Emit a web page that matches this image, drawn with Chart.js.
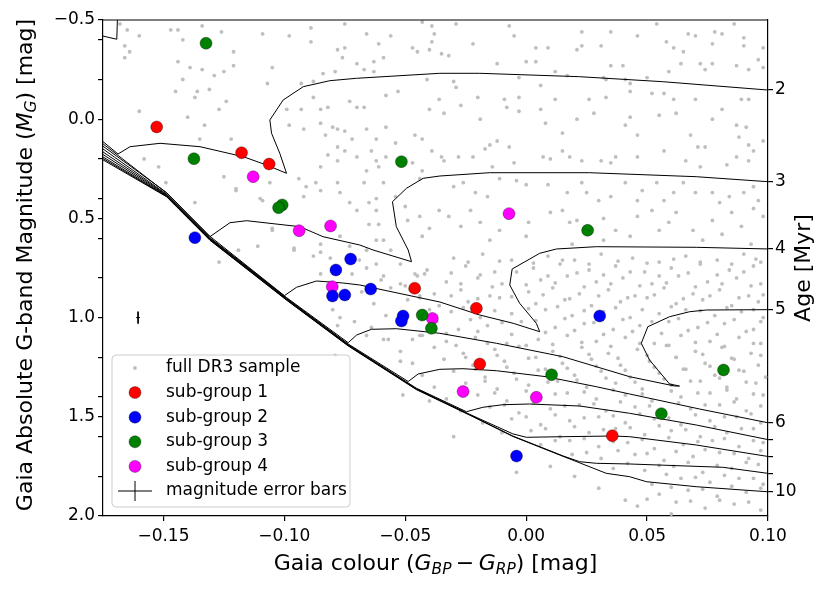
<!DOCTYPE html>
<html>
<head>
<meta charset="utf-8">
<title>Gaia CMD with isochrones</title>
<script src="https://cdn.jsdelivr.net/npm/chart.js"></script>
<style>
  html, body { margin: 0; padding: 0; background: #fff; }
  canvas { display: block; }
</style>
</head>
<body>
<canvas id="cmd" width="830" height="592"></canvas>
<script>
// ---------- axis ticks ----------
const xTicks = [-0.15, -0.10, -0.05, 0.00, 0.05, 0.10];
const yTicks = [-0.5, -0.4, -0.2, 0.0, 0.2, 0.4, 0.5, 0.6, 0.8, 1.0, 1.2, 1.4, 1.5, 1.6, 1.8, 2.0];
const yLabelled = [-0.5, 0.0, 0.5, 1.0, 1.5, 2.0];
// right axis: isochrone ages at the magnitude where each curve leaves the plot
const ageTickMags = [-0.147, 0.315, 0.654, 0.960, 1.530, 1.615, 1.700, 1.785, 1.878];
const ageTickLabels = ['2', '3', '4', '5', '6', '', '', '', '10'];

// ---------- sub-groups [colour, M_G] ----------
const subGroup1 = [[-0.1528, 0.039], [-0.1177, 0.169], [-0.1063, 0.226], [-0.0461, 0.852],
                   [-0.0206, 0.953], [-0.0192, 1.234], [0.0356, 1.595]];
const subGroup2 = [[-0.1370, 0.597], [-0.0726, 0.705], [-0.0787, 0.760], [-0.0801, 0.891],
                   [-0.0750, 0.886], [-0.0643, 0.856], [-0.0509, 0.992], [-0.0516, 1.017],
                   [0.0304, 0.992], [-0.0040, 1.698]];
const subGroup3 = [[-0.1324, -0.383], [-0.1374, 0.199], [-0.0516, 0.214], [-0.1009, 0.432],
                   [-0.1024, 0.446], [0.0254, 0.560], [-0.0430, 0.987], [-0.0392, 1.054],
                   [0.0105, 1.288], [0.0816, 1.264], [0.0559, 1.484]];
const subGroup4 = [[-0.1129, 0.290], [-0.0939, 0.562], [-0.0809, 0.538], [-0.0071, 0.476],
                   [-0.0802, 0.844], [-0.0388, 1.004], [-0.0261, 1.373], [0.0042, 1.402]];

// typical magnitude error bar
const errBarPos = [-0.1605, 1.0];
const errBarSize = [0.0008, 0.03];

// ---------- isochrones (colour, M_G) ----------
const iso1 = [[-0.180, -0.433], [-0.1693, -0.403], [-0.1690, -0.52]];
const iso2 = [[-0.175, 0.113], [-0.1688, 0.1754], [-0.1638, 0.1386], [-0.1514, 0.1215], [-0.1349, 0.1386],
              [-0.1170, 0.1890], [-0.1074, 0.2308], [-0.0991, 0.2727], [-0.1019, 0.1719], [-0.1053, 0.0711],
              [-0.1060, 0.004], [-0.1005, -0.0968], [-0.0922, -0.1638], [-0.0812, -0.1941], [-0.0702, -0.2061],
              [-0.0357, -0.2313], [-0.0192, -0.2313], [0.0221, -0.2142], [0.0565, -0.1890], [0.1, -0.147]];
const iso3 = [[-0.175, 0.124], [-0.1487, 0.372], [-0.1308, 0.5922], [-0.1225, 0.5217], [-0.1156, 0.5116],
              [-0.0936, 0.5418], [-0.0840, 0.5922], [-0.0688, 0.6341], [-0.0633, 0.6593], [-0.0474, 0.7182],
              [-0.0488, 0.6593], [-0.0537, 0.5418], [-0.0553, 0.4158], [-0.0495, 0.3483], [-0.0426, 0.2979],
              [-0.0357, 0.2863], [-0.0151, 0.2697], [0.0262, 0.2697], [0.0703, 0.2898], [0.1, 0.315]];
const iso4 = [[-0.175, 0.136], [-0.1487, 0.370], [-0.1308, 0.590], [-0.1000, 0.8896], [-0.0950, 0.8473],
              [-0.0867, 0.8155], [-0.0758, 0.8256], [-0.0688, 0.8357], [-0.0357, 0.9214], [-0.0192, 0.9869],
              [-0.0054, 1.0287], [0.0056, 1.0711], [0.0042, 1.0287], [-0.0027, 0.9279], [-0.0068, 0.8357],
              [-0.0058, 0.755], [0.0056, 0.6759], [0.0125, 0.6542], [0.0290, 0.6426], [0.0703, 0.6457], [0.1, 0.654]];
const iso5 = [[-0.175, 0.150], [-0.1487, 0.378], [-0.1308, 0.597], [-0.0991, 0.899], [-0.0736, 1.1265],
              [-0.0701, 1.0877], [-0.0640, 1.0590], [-0.0536, 1.0560], [-0.0357, 1.0792], [-0.0123, 1.1295],
              [0.0152, 1.1971], [0.0428, 1.2979], [0.0614, 1.3448], [0.0634, 1.3448], [0.0593, 1.3347],
              [0.0510, 1.2137], [0.0476, 1.1295], [0.0503, 1.0459], [0.0593, 0.9955], [0.0676, 0.9703],
              [0.0745, 0.9617], [0.1, 0.960]];
const iso6 = [[-0.175, 0.165], [-0.1487, 0.381], [-0.1308, 0.600], [-0.0991, 0.902], [-0.0736, 1.133],
              [-0.0488, 1.322], [-0.0447, 1.2843], [-0.0357, 1.2606], [-0.0261, 1.2576], [-0.0123, 1.2677],
              [0.0083, 1.2979], [0.0290, 1.3483], [0.0428, 1.3851], [0.0717, 1.4607], [0.1, 1.530]];
const iso7 = [[-0.175, 0.178], [-0.1487, 0.384], [-0.1308, 0.603], [-0.0991, 0.905], [-0.0736, 1.136],
              [-0.0454, 1.356], [-0.0247, 1.4743], [-0.0179, 1.4521], [-0.0096, 1.4390], [0.0014, 1.4355],
              [0.0221, 1.4456], [0.0428, 1.4824], [0.0703, 1.5413], [0.1, 1.615]];
const iso8 = [[-0.175, 0.190], [-0.1487, 0.387], [-0.1308, 0.606], [-0.0991, 0.908], [-0.0736, 1.139],
              [-0.0454, 1.359], [-0.0233, 1.488], [-0.0055, 1.586], [0.0001, 1.6033], [0.0152, 1.6003],
              [0.0359, 1.5968], [0.0428, 1.6003], [0.0703, 1.6421], [0.1, 1.700]];
const iso9 = [[-0.175, 0.198], [-0.1487, 0.389], [-0.1308, 0.608], [-0.0991, 0.910], [-0.0736, 1.141],
              [-0.0454, 1.361], [-0.0233, 1.490], [-0.0055, 1.597], [0.0152, 1.697], [0.0221, 1.7263],
              [0.0290, 1.7344], [0.0428, 1.7379], [0.0813, 1.7545], [0.1, 1.785]];
const iso10 = [[-0.175, 0.205], [-0.1487, 0.391], [-0.1308, 0.610], [-0.0991, 0.912], [-0.0736, 1.143],
               [-0.0454, 1.363], [-0.0233, 1.492], [-0.0055, 1.599], [0.0152, 1.699], [0.0331, 1.7848],
               [0.0428, 1.8019], [0.0497, 1.8271], [0.0703, 1.8523], [0.1, 1.878]];

// ---------- full DR3 sample ----------
const dr3Upper = [
  [-0.168,-0.48],[-0.165,-0.45],[-0.160,-0.42],[-0.166,-0.37],[-0.164,-0.34],[-0.166,-0.31],[-0.147,-0.45],[-0.144,-0.45],
  [-0.134,-0.47],[-0.126,-0.44],[-0.142,-0.40],[-0.121,-0.34],[-0.144,-0.29],[-0.139,-0.26],[-0.134,-0.25],[-0.129,-0.22],
  [-0.125,-0.24],[-0.121,-0.27],[-0.142,-0.20],[-0.145,-0.14],[-0.136,-0.14],[-0.131,-0.15],[-0.137,-0.11],[-0.124,-0.09],
  [-0.160,-0.04],[-0.140,-0.01],[-0.133,0.03],[-0.127,-0.05],[-0.135,0.10],[-0.122,0.10],[-0.158,0.20],[-0.152,0.24],
  [-0.149,0.32],[-0.137,0.42],[-0.125,0.29],[-0.120,0.35],[-0.110,0.40],[-0.106,0.32],[-0.105,-0.26],[-0.109,-0.43],
  [-0.107,-0.18],[-0.098,-0.42],[-0.089,-0.39],[-0.089,-0.46],[-0.075,-0.48],[-0.078,-0.35],[-0.075,-0.36],[-0.076,-0.31],
  [-0.070,-0.28],[-0.066,-0.43],[-0.063,-0.29],[-0.061,-0.38],[-0.059,-0.31],[-0.056,-0.42],[-0.063,-0.24],[-0.079,-0.24],
  [-0.084,-0.23],[-0.088,-0.19],[-0.067,-0.25],[-0.043,-0.49],[-0.039,-0.47],[-0.039,-0.39],[-0.040,-0.35],[-0.047,-0.36],
  [-0.045,-0.34],[-0.041,-0.20],[-0.053,-0.14],[-0.058,-0.12],[-0.067,-0.06],[-0.070,-0.06],[-0.073,-0.09],[-0.082,-0.06],
  [-0.085,-0.05],[-0.093,-0.05],[-0.088,-0.11],[-0.093,-0.18],[-0.099,-0.05],[-0.098,0.03],[-0.092,0.05],[-0.085,0.02],
  [-0.083,0.08],[-0.080,0.04],[-0.078,0.05],[-0.075,0.06],[-0.072,0.10],[-0.066,0.05],[-0.062,0.10],[-0.058,0.04],
  [-0.054,0.12],[-0.046,0.08],[-0.043,0.10],[-0.040,-0.05],[-0.039,0.16],[-0.047,0.22],[-0.043,0.26],[-0.044,0.30],
  [-0.078,0.14],[-0.082,0.18],[-0.085,0.24],[-0.078,0.21],[-0.075,0.16],[-0.070,0.19],[-0.064,0.16],[-0.062,0.21],
  [-0.058,0.19],[-0.066,0.26],[-0.061,0.24],[-0.094,0.30],[-0.091,0.34],[-0.087,0.32],[-0.092,0.39],[-0.085,0.36],
  [-0.078,0.32],[-0.077,0.37],[-0.073,0.42],[-0.067,0.32],[-0.065,0.42],[-0.070,0.46],[-0.062,0.40],[-0.062,0.46],
  [-0.059,0.32],[-0.054,0.39],[-0.050,0.44],[-0.049,0.51],[-0.044,0.49],[-0.043,0.59],[-0.040,0.55],[-0.061,0.53],
  [-0.065,0.53],[-0.059,0.61],[-0.062,0.61],[-0.056,0.66],[-0.066,0.66],[-0.069,0.71],[-0.085,0.63],[-0.096,0.66],
  [-0.105,0.55],[-0.109,0.41],[-0.120,0.36],
  [-0.038,-0.43],[-0.029,-0.48],[-0.022,-0.38],[-0.035,-0.33],[-0.032,-0.32],[-0.007,-0.47],[-0.005,-0.42],[-0.012,-0.28],
  [0.000,-0.29],[0.004,-0.29],[0.004,-0.36],[0.009,-0.36],[0.012,-0.24],[0.021,-0.35],[0.023,-0.37],[0.023,-0.44],
  [0.031,-0.37],[0.035,-0.44],[0.040,-0.27],[0.035,-0.27],[0.046,-0.42],[0.054,-0.48],[0.058,-0.39],[0.061,-0.36],
  [0.065,-0.34],[0.064,-0.28],[0.067,-0.43],[0.070,-0.42],[0.078,-0.44],[0.081,-0.43],[0.086,-0.48],[0.077,-0.38],
  [0.090,-0.41],[0.098,-0.36],[0.096,-0.30],[0.090,-0.37],[0.072,-0.28],[0.077,-0.28],[0.074,-0.25],[0.087,-0.27],
  [0.092,-0.25],[0.098,-0.26],[0.059,-0.24],[0.050,-0.21],[0.043,-0.18],[0.041,-0.20],[0.033,-0.20],[0.032,-0.21],
  [0.017,-0.22],[0.006,-0.17],[-0.003,-0.21],[-0.030,-0.19],[-0.029,-0.16],[-0.036,-0.10],[-0.034,-0.03],[-0.027,-0.07],
  [-0.020,-0.11],[-0.019,0.00],[-0.009,-0.10],[-0.008,-0.06],[-0.003,-0.11],[-0.003,-0.04],[0.006,-0.05],[0.012,-0.10],
  [0.008,0.02],[0.015,0.07],[0.021,0.00],[0.026,-0.10],[0.028,-0.03],[0.033,-0.11],[0.041,0.03],[0.043,-0.01],
  [0.046,0.08],[0.043,-0.14],[0.055,-0.02],[0.062,-0.03],[0.052,-0.13],[0.057,-0.13],[0.061,-0.10],[0.070,-0.10],
  [0.077,0.00],[0.068,0.08],[0.071,0.14],[0.074,0.14],[0.081,-0.05],[0.087,0.03],[0.091,0.04],[0.088,0.09],
  [0.092,0.13],[0.094,0.16],[0.098,0.11],[0.089,-0.10],[0.092,-0.10],[-0.015,0.13],[-0.017,0.15],[-0.012,0.11],
  [-0.007,0.14],[-0.022,0.19],[-0.028,0.19],[-0.035,0.19],[-0.034,0.21],[-0.014,0.24],[-0.005,0.22],[0.007,0.19],
  [0.010,0.20],[0.015,0.16],[0.018,0.19],[0.023,0.21],[0.031,0.21],[0.035,0.22],[0.037,0.19],[0.046,0.19],
  [0.057,0.16],[0.066,0.21],[0.072,0.24],[0.083,0.23],[0.087,0.19],[0.092,0.21],
  [-0.030,0.34],[-0.026,0.32],[-0.021,0.37],[-0.016,0.39],[-0.011,0.30],[-0.004,0.31],[0.000,0.33],[0.009,0.33],
  [0.017,0.37],[0.023,0.32],[0.025,0.37],[0.030,0.41],[0.035,0.39],[0.041,0.32],[0.046,0.41],[0.048,0.36],
  [0.054,0.32],[0.057,0.41],[0.061,0.37],[0.065,0.32],[0.070,0.37],[0.077,0.37],[0.080,0.42],[0.084,0.39],
  [0.090,0.37],[0.094,0.34],[0.096,0.41],[-0.036,0.46],[-0.032,0.49],[-0.027,0.54],[-0.023,0.46],[-0.019,0.52],
  [-0.015,0.61],[-0.011,0.56],[0.000,0.59],[0.001,0.52],[0.010,0.47],[0.015,0.46],[0.018,0.52],[0.021,0.51],
  [0.019,0.63],[0.032,0.50],[0.032,0.61],[0.037,0.56],[0.043,0.59],[0.046,0.49],[0.052,0.46],[0.055,0.56],
  [0.059,0.52],[0.062,0.47],[0.069,0.56],[0.073,0.61],[0.077,0.51],[0.081,0.58],[0.085,0.47],[0.089,0.54],
  [0.093,0.63],[0.098,0.49],[0.094,0.45]
];
const dr3Lower = [
  [-0.127,0.72],[-0.111,0.64],[-0.119,0.66],[-0.105,0.56],[-0.096,0.65],[-0.088,0.69],[-0.085,0.67],[-0.081,0.70],
  [-0.085,0.78],[-0.077,0.59],[-0.073,0.64],[-0.072,0.78],[-0.080,0.96],[-0.077,1.00],[-0.071,1.02],[-0.062,0.73],
  [-0.059,0.79],[-0.052,0.83],[-0.048,0.86],[-0.044,0.89],[-0.042,0.78],[-0.078,1.04],[-0.066,1.09],[-0.059,1.11],
  [-0.047,1.11],[-0.043,1.09],[-0.052,1.22],[-0.051,1.39],[-0.040,1.42],[-0.079,1.19],
  [-0.030,0.70],[-0.018,0.68],[-0.006,0.71],[0.009,0.69],[0.020,0.71],[0.031,0.68],[0.044,0.70],[0.055,0.72],
  [0.066,0.69],[0.079,0.71],[0.090,0.68],[0.097,0.72],
  [-0.066,0.75],[-0.052,0.73],[-0.041,0.76],[-0.025,0.74],[-0.013,0.77],[0.003,0.75],[0.014,0.73],[0.026,0.76],
  [0.037,0.74],[0.049,0.77],[0.060,0.75],[0.072,0.73],[0.084,0.76],[0.094,0.74],
  [-0.060,0.81],[-0.045,0.79],[-0.033,0.82],[-0.020,0.80],[-0.010,0.83],[0.006,0.81],[0.017,0.79],[0.029,0.82],
  [0.040,0.80],[0.052,0.83],[0.063,0.79],[0.075,0.82],[0.087,0.80],[0.097,0.83],
  [-0.068,0.87],[-0.056,0.85],[-0.038,0.88],[-0.027,0.86],[-0.015,0.89],[0.001,0.87],[0.011,0.85],[0.022,0.88],
  [0.034,0.86],[0.045,0.89],[0.057,0.85],[0.069,0.88],[0.080,0.86],[0.092,0.89],
  [-0.063,0.93],[-0.049,0.91],[-0.036,0.94],[-0.024,0.92],[-0.011,0.90],[0.004,0.93],[0.016,0.91],[0.027,0.94],
  [0.039,0.92],[0.050,0.90],[0.062,0.93],[0.073,0.91],[0.085,0.94],[0.096,0.92],
  [-0.058,0.99],[-0.031,0.97],[-0.019,1.00],[-0.006,0.98],[0.008,0.96],[0.019,0.99],[0.032,0.97],[0.043,1.00],
  [0.055,0.98],[0.066,0.96],[0.078,0.99],[0.089,0.97],[0.098,1.00],
  [-0.064,1.05],[-0.050,1.03],[-0.028,1.06],[-0.016,1.04],[-0.002,1.02],[0.012,1.05],[0.024,1.03],[0.036,1.06],
  [0.047,1.04],[0.059,1.02],[0.071,1.05],[0.082,1.03],[0.094,1.06],
  [-0.057,1.11],[-0.044,1.09],[-0.033,1.12],[-0.021,1.10],[-0.008,1.13],[0.005,1.11],[0.017,1.09],[0.029,1.12],
  [0.041,1.10],[0.053,1.13],[0.064,1.09],[0.076,1.12],[0.088,1.10],[0.097,1.13],
  [-0.052,1.17],[-0.038,1.15],[-0.026,1.18],[-0.013,1.16],[0.000,1.14],[0.011,1.17],[0.023,1.15],[0.034,1.18],
  [0.046,1.16],[0.058,1.14],[0.070,1.17],[0.081,1.15],[0.093,1.18],
  [-0.047,1.23],[-0.034,1.21],[-0.022,1.24],[-0.009,1.22],[0.004,1.20],[0.015,1.23],[0.027,1.21],[0.039,1.24],
  [0.051,1.22],[0.062,1.20],[0.074,1.23],[0.086,1.21],[0.096,1.24],
  [-0.043,1.29],[-0.030,1.27],[-0.017,1.30],[-0.005,1.28],[0.008,1.26],[0.020,1.29],[0.031,1.27],[0.043,1.30],
  [0.055,1.28],[0.066,1.26],[0.078,1.29],[0.090,1.27],[0.099,1.30],
  [-0.038,1.35],[-0.025,1.33],[-0.012,1.36],[0.001,1.34],[0.013,1.32],[0.025,1.35],[0.037,1.33],[0.048,1.36],
  [0.060,1.34],[0.072,1.32],[0.083,1.35],[0.095,1.33],
  [-0.033,1.41],[-0.020,1.39],[-0.008,1.42],[0.005,1.40],[0.017,1.38],[0.029,1.41],[0.041,1.39],[0.052,1.42],
  [0.064,1.40],[0.076,1.38],[0.087,1.41],[0.098,1.39],
  [-0.027,1.47],[-0.015,1.45],[-0.003,1.48],[0.010,1.46],[0.022,1.44],[0.033,1.47],[0.045,1.45],[0.057,1.48],
  [0.068,1.46],[0.080,1.44],[0.091,1.47],
  [-0.018,1.53],[-0.006,1.51],[0.006,1.54],[0.018,1.52],[0.030,1.50],[0.041,1.53],[0.053,1.51],[0.064,1.54],
  [0.076,1.52],[0.087,1.50],[0.097,1.53],
  [-0.010,1.58],[0.002,1.57],[0.014,1.60],[0.026,1.58],[0.037,1.56],[0.049,1.59],[0.060,1.57],[0.072,1.60],
  [0.083,1.58],[0.094,1.56],
  [0.006,1.64],[0.018,1.62],[0.030,1.65],[0.042,1.63],[0.053,1.66],[0.065,1.64],[0.077,1.62],[0.088,1.65],[0.098,1.63],
  [0.019,1.69],[0.031,1.71],[0.045,1.69],[0.057,1.72],[0.069,1.70],[0.080,1.68],[0.092,1.71],
  [0.036,1.76],[0.049,1.77],[0.061,1.75],[0.073,1.78],[0.085,1.76],[0.096,1.74],
  [0.052,1.84],[0.064,1.81],[0.076,1.83],[0.088,1.81],[0.098,1.84],
  [0.055,1.89],[0.067,1.87],[0.079,1.90],[0.091,1.88],
  [0.046,1.95],[0.062,1.93],[0.074,1.96],[0.086,1.94],[0.097,1.97],
  [0.020,1.80],[0.030,1.86],[0.010,1.75],[-0.004,1.78],[0.041,1.92],[-0.030,1.60],[0.060,1.99]
];
// the dense red end of the sample, between the rows above
const dr3Dense = [
  [-0.024,0.72],[-0.011,0.715],[0.003,0.725],[0.015,0.71],[0.026,0.73],[0.038,0.715],[0.050,0.725],[0.061,0.705],
  [0.072,0.72],[0.085,0.73],[0.095,0.705],
  [-0.046,0.78],[-0.031,0.775],[-0.019,0.785],[-0.004,0.77],[0.009,0.79],[0.021,0.775],[0.032,0.785],[0.043,0.77],
  [0.055,0.79],[0.067,0.775],[0.079,0.785],[0.090,0.77],
  [-0.050,0.84],[-0.027,0.83],[-0.014,0.845],[0.000,0.835],[0.012,0.825],[0.024,0.845],[0.035,0.83],[0.047,0.84],
  [0.058,0.825],[0.070,0.845],[0.081,0.83],[0.093,0.84],
  [-0.044,0.90],[-0.031,0.89],[-0.020,0.905],[-0.006,0.895],[0.007,0.885],[0.018,0.905],[0.030,0.89],[0.042,0.90],
  [0.053,0.885],[0.065,0.905],[0.076,0.89],[0.088,0.90],[0.098,0.885],
  [-0.040,0.96],[-0.026,0.95],[-0.013,0.965],[0.001,0.955],[0.013,0.945],[0.024,0.965],[0.037,0.95],[0.048,0.96],
  [0.060,0.945],[0.072,0.965],[0.083,0.95],[0.094,0.96],
  [-0.037,1.02],[-0.023,1.01],[-0.010,1.025],[0.004,1.015],[0.016,1.005],[0.028,1.025],[0.040,1.01],[0.052,1.02],
  [0.063,1.005],[0.075,1.025],[0.086,1.01],[0.097,1.02],
  [-0.033,1.08],[-0.020,1.07],[-0.006,1.085],[0.008,1.075],[0.020,1.065],[0.032,1.085],[0.044,1.07],[0.056,1.08],
  [0.067,1.065],[0.079,1.085],[0.091,1.07],
  [-0.029,1.14],[-0.016,1.13],[-0.003,1.145],[0.011,1.135],[0.023,1.125],[0.035,1.145],[0.047,1.13],[0.059,1.14],
  [0.070,1.125],[0.082,1.145],[0.094,1.13],
  [-0.025,1.20],[-0.012,1.19],[0.001,1.205],[0.014,1.195],[0.026,1.185],[0.038,1.205],[0.050,1.19],[0.062,1.20],
  [0.073,1.185],[0.085,1.205],[0.097,1.19],
  [-0.021,1.26],[-0.008,1.25],[0.005,1.265],[0.017,1.255],[0.029,1.245],[0.041,1.265],[0.053,1.25],[0.065,1.26],
  [0.076,1.245],[0.088,1.265],
  [-0.017,1.32],[-0.004,1.31],[0.009,1.325],[0.021,1.315],[0.033,1.305],[0.045,1.325],[0.057,1.31],[0.068,1.32],
  [0.080,1.305],[0.091,1.325],
  [-0.013,1.38],[0.000,1.37],[0.012,1.385],[0.024,1.375],[0.036,1.365],[0.048,1.385],[0.060,1.37],[0.071,1.38],
  [0.083,1.365],[0.094,1.385],
  [-0.009,1.44],[0.003,1.43],[0.016,1.445],[0.028,1.435],[0.039,1.425],[0.051,1.445],[0.063,1.43],[0.074,1.44],
  [0.086,1.425],[0.097,1.445],
  [0.000,1.50],[0.012,1.49],[0.024,1.505],[0.036,1.495],[0.047,1.485],[0.059,1.505],[0.070,1.49],[0.082,1.50],[0.093,1.485],
  [0.008,1.56],[0.020,1.55],[0.032,1.565],[0.043,1.555],[0.055,1.545],[0.066,1.565],[0.078,1.55],[0.089,1.56],
  [0.012,1.62],[0.024,1.61],[0.036,1.625],[0.048,1.615],[0.059,1.605],[0.071,1.625],[0.082,1.61],[0.094,1.62],
  [0.025,1.68],[0.038,1.67],[0.050,1.685],[0.062,1.675],[0.074,1.665],[0.086,1.685],[0.097,1.67],
  [0.042,1.735],[0.055,1.745],[0.067,1.73],[0.079,1.745],[0.091,1.73],
  [0.058,1.79],[0.070,1.805],[0.082,1.795],[0.094,1.81],
  [0.060,1.855],[0.073,1.865],[0.085,1.85],[0.097,1.86],
  [0.050,1.915],[0.068,1.925],[0.080,1.92],[0.092,1.93]
];

const legendLabels = ['full DR3 sample', 'sub-group 1', 'sub-group 2', 'sub-group 3', 'sub-group 4', 'magnitude error bars'];
const groupColors = ['#ff0000', '#0000ff', '#008000', '#ff00ff'];
const sampleColor = '#bfbfbf';

// ---------- helpers ----------
const toPts = arr => arr.map(p => ({ x: p[0], y: p[1] }));
const fmtMinus = s => s.replace('-', '\u2212');

const isoList = [iso1, iso2, iso3, iso4, iso5, iso6, iso7, iso8, iso9, iso10];
const groups = [subGroup1, subGroup2, subGroup3, subGroup4];

const errBarData = [
  { x: errBarPos[0], y: errBarPos[1] - errBarSize[1] },
  { x: errBarPos[0], y: errBarPos[1] + errBarSize[1] },
  { x: errBarPos[0], y: null },
  { x: errBarPos[0] - errBarSize[0], y: errBarPos[1] },
  { x: errBarPos[0] + errBarSize[0], y: errBarPos[1] }
];

const datasets = [];
groups.forEach((g, i) => {
  datasets.push({
    label: legendLabels[i + 1],
    data: toPts(g),
    pointRadius: 6,
    pointBackgroundColor: groupColors[i],
    pointBorderColor: 'rgba(0,0,0,0.55)',
    pointBorderWidth: 0.6,
    showLine: false,
    order: 0
  });
});
datasets.push({
  label: legendLabels[5],
  data: errBarData,
  showLine: true,
  spanGaps: false,
  borderColor: '#000',
  borderWidth: 1,
  pointRadius: 0,
  order: 1
});
isoList.forEach((iso, i) => {
  datasets.push({
    label: 'iso' + (i + 1),
    data: toPts(iso),
    showLine: true,
    borderColor: '#000',
    borderWidth: 1,
    pointRadius: 0,
    tension: 0,
    order: 2
  });
});
datasets.push({
  label: legendLabels[0],
  data: toPts(dr3Upper.concat(dr3Lower, dr3Dense)),
  pointRadius: 1.9,
  pointBackgroundColor: sampleColor,
  pointBorderWidth: 0,
  showLine: false,
  order: 3
});

// ---------- titles, top frame and legend ----------
const FONT = "'DejaVu Sans', sans-serif";

function runFont(r, size) {
  return (r.it ? 'oblique ' : '') + (r.sub ? size * 0.7 : size) + 'px ' + FONT;
}
function runsWidth(ctx, runs, size) {
  let w = 0;
  runs.forEach(r => { ctx.font = runFont(r, size); w += ctx.measureText(r.t).width; });
  return w;
}
function drawRuns(ctx, runs, x, y, size) {
  let cx = x;
  runs.forEach(r => {
    ctx.font = runFont(r, size);
    ctx.fillText(r.t, cx, y + (r.sub ? size * 0.2 : 0));
    cx += ctx.measureText(r.t).width;
  });
}

const xTitle = [{ t: 'Gaia colour (' }, { t: 'G', it: 1 }, { t: 'BP', it: 1, sub: 1 },
                { t: '\u2009\u2212\u2009' }, { t: 'G', it: 1 }, { t: 'RP', it: 1, sub: 1 }, { t: ') [mag]' }];
const yTitle = [{ t: 'Gaia Absolute G-band Magnitude (' }, { t: 'M', it: 1 }, { t: 'G', it: 1, sub: 1 }, { t: ') [mag]' }];
const y2Title = [{ t: 'Age [Myr]' }];

const decor = {
  id: 'decor',
  afterDraw(chart) {
    const ctx = chart.ctx;
    const a = chart.chartArea;
    const size = 22;
    ctx.save();
    ctx.fillStyle = '#000';
    ctx.textBaseline = 'alphabetic';

    // top spine
    ctx.strokeStyle = '#000';
    ctx.lineWidth = 1.2;
    ctx.beginPath();
    ctx.moveTo(a.left, a.top);
    ctx.lineTo(a.right, a.top);
    ctx.stroke();

    // x title
    let w = runsWidth(ctx, xTitle, size);
    drawRuns(ctx, xTitle, (a.left + a.right) / 2 - w / 2, 570, size);

    // left y title
    w = runsWidth(ctx, yTitle, size);
    ctx.save();
    ctx.translate(32, (a.top + a.bottom) / 2 - 3);
    ctx.rotate(-Math.PI / 2);
    drawRuns(ctx, yTitle, -w / 2, 0, size);
    ctx.restore();

    // right y title
    w = runsWidth(ctx, y2Title, size);
    ctx.save();
    ctx.translate(810, (a.top + a.bottom) / 2);
    ctx.rotate(-Math.PI / 2);
    drawRuns(ctx, y2Title, -w / 2, 0, size);
    ctx.restore();

    // legend
    const bx = a.left + 9, bw = 238, bh = 152, by = a.bottom - 9 - bh;
    ctx.beginPath();
    ctx.roundRect(bx, by, bw, bh, 4);
    ctx.fillStyle = 'rgba(255,255,255,0.8)';
    ctx.fill();
    ctx.strokeStyle = '#cccccc';
    ctx.lineWidth = 1;
    ctx.stroke();

    const mx = bx + 23, tx = bx + 54, rowH = 24.6, y0 = by + 13;
    ctx.font = '17px ' + FONT;
    ctx.textBaseline = 'middle';
    legendLabels.forEach((lab, i) => {
      const ry = y0 + i * rowH;
      if (i === 0) {
        ctx.beginPath();
        ctx.arc(mx, ry, 1.9, 0, Math.PI * 2);
        ctx.fillStyle = sampleColor;
        ctx.fill();
      } else if (i <= 4) {
        ctx.beginPath();
        ctx.arc(mx, ry, 6, 0, Math.PI * 2);
        ctx.fillStyle = groupColors[i - 1];
        ctx.fill();
        ctx.strokeStyle = 'rgba(0,0,0,0.55)';
        ctx.lineWidth = 0.6;
        ctx.stroke();
      } else {
        ctx.strokeStyle = '#000';
        ctx.lineWidth = 1;
        ctx.beginPath();
        ctx.moveTo(mx - 17, ry); ctx.lineTo(mx + 17, ry);
        ctx.moveTo(mx, ry - 10); ctx.lineTo(mx, ry + 10);
        ctx.stroke();
      }
      ctx.fillStyle = '#000';
      ctx.fillText(lab, tx, ry);
    });
    ctx.restore();
  }
};

// ---------- chart ----------
Chart.defaults.font.family = FONT;
Chart.defaults.color = '#000';

const axisGrid = { drawOnChartArea: false, drawTicks: true, tickLength: 5, color: '#000', lineWidth: 1.2 };
const axisBorder = { display: true, color: '#000', width: 1.2 };

new Chart(document.getElementById('cmd').getContext('2d'), {
  type: 'scatter',
  data: { datasets: datasets },
  options: {
    responsive: false,
    animation: false,
    events: [],
    layout: { padding: { top: 20, left: 0, right: 0, bottom: 0 } },
    plugins: { legend: { display: false }, tooltip: { enabled: false } },
    scales: {
      x: {
        type: 'linear',
        position: 'bottom',
        min: -0.175,
        max: 0.10,
        afterFit: s => { s.height = 76; },
        afterBuildTicks: s => { s.ticks = xTicks.map(v => ({ value: v })); },
        ticks: {
          font: { size: 17 },
          padding: 5,
          autoSkip: false,
          maxRotation: 0,
          callback: v => fmtMinus(v.toFixed(2))
        },
        grid: axisGrid,
        border: axisBorder
      },
      y: {
        type: 'linear',
        position: 'left',
        reverse: true,
        min: -0.5,
        max: 2.0,
        afterFit: s => { s.width = 103; },
        afterBuildTicks: s => { s.ticks = yTicks.map(v => ({ value: v })); },
        ticks: {
          font: { size: 17 },
          padding: 3,
          autoSkip: false,
          callback: v => yLabelled.some(l => Math.abs(l - v) < 1e-6) ? fmtMinus(v.toFixed(1)) : ''
        },
        grid: axisGrid,
        border: axisBorder
      },
      y2: {
        type: 'linear',
        position: 'right',
        reverse: true,
        min: -0.5,
        max: 2.0,
        afterFit: s => { s.width = 62; },
        afterBuildTicks: s => { s.ticks = ageTickMags.map(v => ({ value: v })); },
        ticks: {
          font: { size: 17 },
          padding: 2,
          autoSkip: false,
          callback: (v, i) => ageTickLabels[i]
        },
        grid: axisGrid,
        border: axisBorder
      }
    }
  },
  plugins: [decor]
});
</script>
</body>
</html>
